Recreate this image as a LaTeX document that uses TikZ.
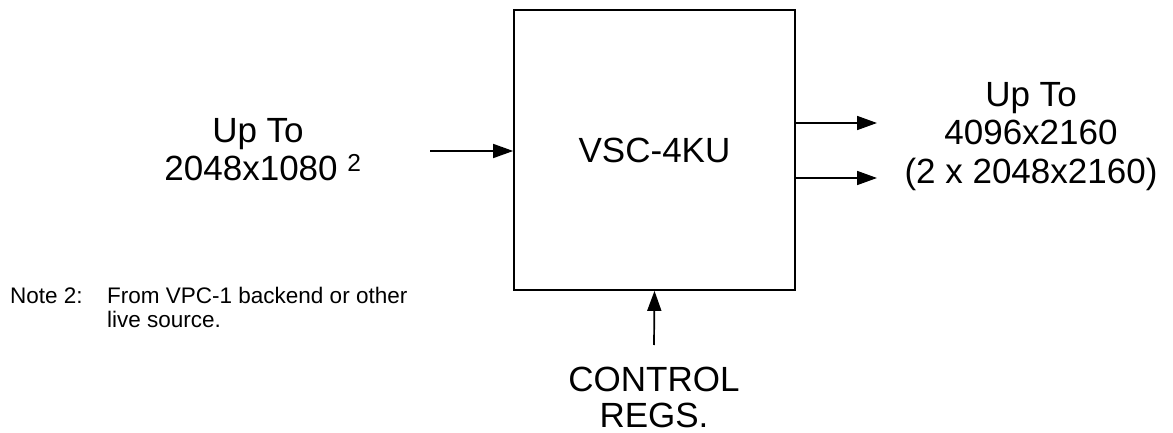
\documentclass[tikz,border=0pt]{standalone}
\usepackage{fontspec}
\setmainfont{Liberation Sans}
\usetikzlibrary{arrows.meta}
\begin{document}
\begin{tikzpicture}[x=1pt,y=-1pt,
  big/.style={font=\fontsize{35}{38}\selectfont, inner sep=0pt},
  small/.style={font=\fontsize{22.5}{26}\selectfont, inner sep=0pt},
  arr/.style={line width=1.7pt, -{Triangle[length=20pt,width=14pt]}},
  blk/.style={draw, line width=1.7pt, minimum width=281pt, minimum height=280pt, inner sep=0pt}]
\useasboundingbox (0,0) rectangle (1173,433);
% main block
\node[blk, big] (box) at (654.5,150) {VSC-4KU};
% input
\node[big, anchor=base] (inA) at (258,143) {Up To};
\node[big, anchor=base] (inB) at (263,181) {2048x1080 \textsuperscript{2}};
\coordinate (inL) at (430,151);
\draw[arr] (inL) -- (inL -| box.west);
% outputs
\node[big, anchor=base] (outA) at (1031,107) {Up To};
\node[big, anchor=base] (outB) at (1031,145) {4096x2160};
\node[big, anchor=base] (outC) at (1031,183) {(2 x 2048x2160)};
\coordinate (o1) at (877,123);
\coordinate (o2) at (877,178);
\draw[arr] (box.east |- o1) -- (o1);
\draw[arr] (box.east |- o2) -- (o2);
% control
\node[big, anchor=base] (ctlA) at (654,391) {CONTROL};
\node[big, anchor=base] (ctlB) at (654,427) {REGS.};
\coordinate (c0) at (654,345);
\draw[arr] (c0) -- (box.south);
% note
\node[small, anchor=base west] (noteA) at (10,303) {Note 2:};
\node[small, anchor=base west] (noteB) at (107,303) {From VPC-1 backend or other};
\node[small, anchor=base west] (noteC) at (107,327) {live source.};
\end{tikzpicture}
\end{document}
